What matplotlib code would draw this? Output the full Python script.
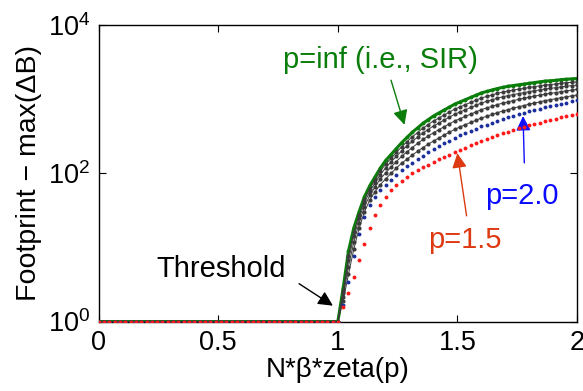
import matplotlib
matplotlib.use("Agg")
import matplotlib.pyplot as plt
import numpy as np

plt.rcParams['font.family'] = ['Liberation Sans', 'DejaVu Sans']
plt.rcParams['mathtext.fontset'] = 'custom'
plt.rcParams['mathtext.rm'] = 'Liberation Sans'

# N*beta*zeta(p) grid, step 1/45
x = np.linspace(0, 2, 91)
n_flat = 46  # footprint stays at 1 up to the threshold

# footprint above threshold (x = 1.022 ... 2.0)
rise_p15 = [1.55, 2.45, 4.0, 6.8, 11.2, 18.2, 26.9, 37.2, 47.9,
            58.9, 69.2, 79.4, 89.1, 100, 110, 120, 130, 141,
            153, 164, 178, 191, 204, 221, 237, 254, 272,
            288, 309, 327, 347, 363, 385, 403, 422, 442,
            462, 479, 501, 519, 543, 562, 582, 603, 631]
rise_p20 = [1.66, 3.39, 7.59, 15.1, 25.7, 37.2, 47.9, 58.9, 69.2,
            81.3, 95.5, 110, 123, 138, 155, 172, 191, 209,
            229, 251, 275, 299, 324, 347, 372, 398, 427,
            452, 479, 507, 537, 562, 596, 624, 653, 684,
            716, 741, 776, 804, 832, 861, 891, 923, 955]
rise_gray = [
    [1.90, 4.32, 9.44, 18.0, 30.1, 43.2, 56.0, 70.0, 83.7,
     98.9, 117, 136, 154, 175, 197, 221, 245, 271,
     297, 326, 357, 388, 420, 450, 482, 516, 553,
     583, 617, 652, 685, 716, 752, 783, 815, 849,
     883, 912, 951, 977, 1007, 1038, 1069, 1099, 1132],
    [2.16, 5.50, 11.7, 21.4, 35.1, 50.1, 65.3, 83.2, 101,
     120, 143, 168, 193, 221, 251, 284, 316, 351,
     385, 422, 462, 505, 543, 582, 624, 668, 716,
     755, 794, 838, 877, 912, 951, 984, 1019, 1054,
     1091, 1122, 1161, 1189, 1216, 1253, 1282, 1312, 1343],
    [2.40, 6.67, 14.0, 24.5, 39.7, 56.5, 74.0, 95.5, 118,
     141, 168, 199, 231, 267, 305, 347, 387, 432,
     473, 519, 569, 622, 668, 716, 767, 822, 881,
     927, 973, 1023, 1067, 1107, 1146, 1180, 1216, 1253,
     1291, 1324, 1365, 1390, 1416, 1455, 1483, 1510, 1538],
    [2.61, 7.71, 16.0, 27.2, 43.7, 61.8, 81.3, 106, 132,
     158, 190, 226, 264, 308, 352, 403, 451, 505,
     553, 607, 665, 728, 782, 838, 897, 962, 1030,
     1079, 1132, 1189, 1233, 1279, 1315, 1352, 1387, 1426,
     1462, 1500, 1542, 1563, 1589, 1626, 1652, 1675, 1702],
]
rise_inf = [2.82, 8.91, 18.2, 30.2, 47.9, 67.6, 89.1, 117, 148,
            178, 214, 257, 302, 355, 407, 468, 525, 589,
            646, 708, 776, 851, 912, 977, 1047, 1122, 1202,
            1259, 1318, 1380, 1429, 1479, 1514, 1549, 1585, 1622,
            1660, 1698, 1738, 1758, 1778, 1820, 1841, 1862, 1884]

flat = [1.0] * n_flat
y_p15 = np.array(flat + rise_p15)
y_p20 = np.array(flat + rise_p20)
y_gray = [np.array(flat + g) for g in rise_gray]
y_inf = np.array(flat + rise_inf)

green = '#0a7d0a'
gray = '#3c3c3c'
blue = '#1c2f9c'
red = '#ff1a1a'

fig = plt.figure(figsize=(5.83, 3.91), dpi=100)
ax = fig.add_axes([0.1693, 0.1777, 0.8204, 0.7591])

ax.plot(x, y_inf, '-', color=green, lw=2.2, zorder=2)
ax.plot(x, y_inf, 'o', color=green, ms=2.8, mew=0, zorder=2)
for yg in y_gray:
    ax.plot(x, yg, '-', color=gray, lw=0.7, zorder=3)
    ax.plot(x, yg, 'o', color=gray, ms=3.0, mew=0, zorder=3)
ax.plot(x, y_p20, 'o', color=blue, ms=2.8, mew=0, zorder=4)
ax.plot(x, y_p15, 'o', color=red, ms=2.8, mew=0, zorder=5)

ax.set_yscale('log')
ax.set_xlim(0, 2)
ax.set_ylim(1, 1e4)
ax.set_xticks([0, 0.5, 1, 1.5, 2])
ax.set_xticklabels(['0', '0.5', '1', '1.5', '2'])
ax.set_yticks([1, 1e2, 1e4])
ax.yaxis.set_minor_locator(matplotlib.ticker.NullLocator())
ax.tick_params(which='both', direction='in', length=5, width=0.8,
               top=True, right=True, labelsize=19.5, pad=6)
for s in ax.spines.values():
    s.set_linewidth(1.0)

ax.set_xlabel('N*β*zeta(p)', fontsize=20, labelpad=1)
ax.set_ylabel('Footprint − max(ΔB)', fontsize=20.5, labelpad=4)

# labels with arrows
ax.annotate('', xy=(1.282, 412), xytext=(1.219, 1940),
            arrowprops=dict(arrowstyle='-|>', color=green, lw=1.0,
                            mutation_scale=22))
ax.text(0.772, 2570, 'p=inf (i.e., SIR)', color=green, fontsize=21,
        ha='left', va='baseline')

ax.annotate('', xy=(1.774, 641), xytext=(1.78, 126),
            arrowprops=dict(arrowstyle='-|>', color='#1010ff', lw=1.0,
                            mutation_scale=22))
ax.text(1.617, 38.6, 'p=2.0', color='#0a0aff', fontsize=21,
        ha='left', va='baseline')

ax.annotate('', xy=(1.498, 202), xytext=(1.54, 24.4),
            arrowprops=dict(arrowstyle='-|>', color='#dd3a12', lw=1.0,
                            mutation_scale=22))
ax.text(1.378, 9.85, 'p=1.5', color='#dd3a12', fontsize=21,
        ha='left', va='baseline')

ax.annotate('', xy=(0.989, 1.56), xytext=(0.828, 3.39),
            arrowprops=dict(arrowstyle='-|>', color='black', lw=1.0,
                            mutation_scale=22))
ax.text(0.24, 4.04, 'Threshold', color='black', fontsize=21,
        ha='left', va='baseline')

fig.savefig('out.png', dpi=100)
